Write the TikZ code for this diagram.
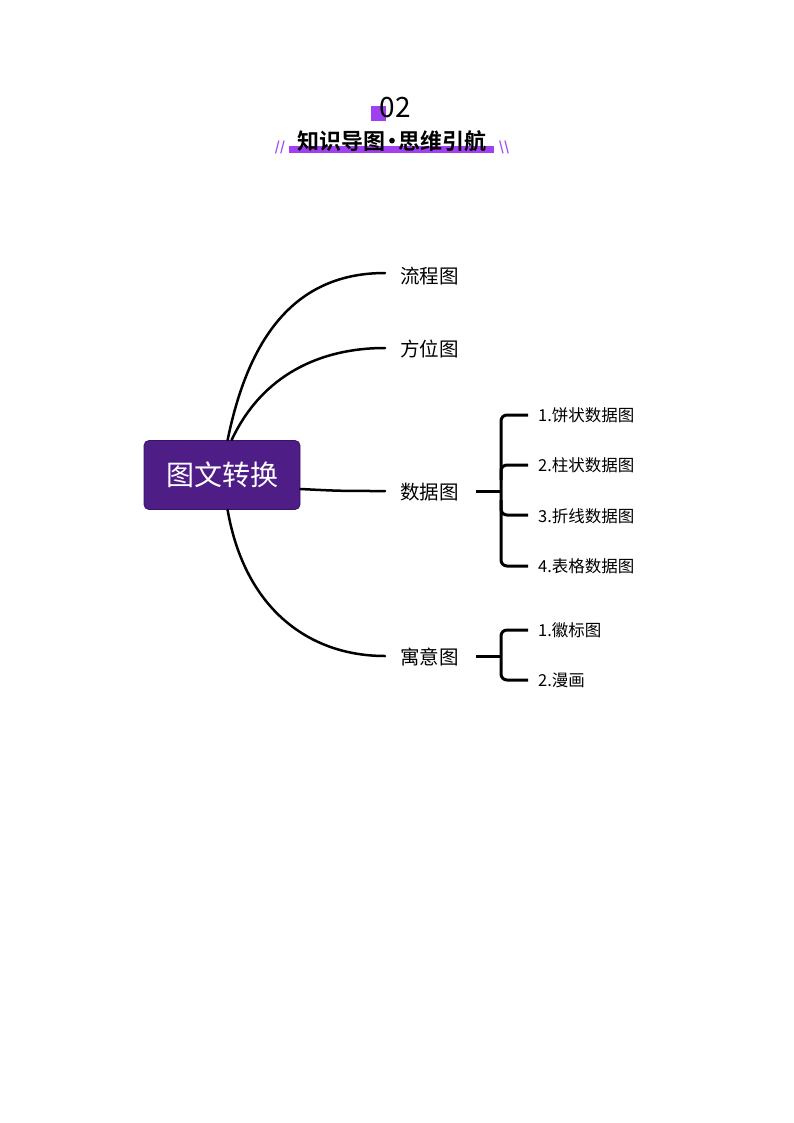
\documentclass[tikz,border=0pt]{standalone}
\usepackage{fontspec}
\setmainfont{Noto Sans CJK SC}
\newfontfamily\cjk{Noto Sans CJK SC}
\newfontfamily\cjkbold{Noto Sans CJK SC Bold}
\newfontfamily\cjklight{Noto Sans CJK SC Light}
\definecolor{barpurple}{HTML}{A040F0}
\definecolor{nodepurple}{HTML}{4F1D86}
\definecolor{nodeborder}{HTML}{3A1266}
\begin{document}
\begin{tikzpicture}[x=1pt,y=-1pt,
  branch/.style={line width=2.5pt,line cap=round},
  brack/.style={line width=3pt,rounded corners=6pt},
  lvl1/.style={font=\cjk\fontsize{19.5}{22}\selectfont,anchor=west,inner sep=0pt},
  lvl2/.style={font=\cjk\fontsize{16.5}{18}\selectfont,anchor=west,inner sep=0pt}]
\useasboundingbox (0,0) rectangle (794,1123);
% header
\fill[barpurple] (371,106) rectangle (386,121);
\node[font=\cjk\fontsize{28}{30}\selectfont,inner sep=0pt] (num) at (395,108) {02};
\fill[barpurple] (289,146) rectangle (494,153);
\node[font=\cjkbold\fontsize{22}{24}\selectfont,inner sep=0pt] (title) at (392,141) {知识导图\kern-4.5pt·\kern-4.5pt思维引航};
\node[font=\cjkbold\fontsize{13}{14}\selectfont,text=barpurple,inner sep=0pt] (sl) at (280,147) {//};
\node[font=\cjkbold\fontsize{13}{14}\selectfont,text=barpurple,inner sep=0pt] (sr) at (504,147) {\textbackslash\textbackslash};
% central node
\node[draw=nodeborder,line width=0.8pt,fill=nodepurple,rounded corners=5pt,minimum width=156pt,minimum height=69pt,inner sep=0pt,text=white,font=\cjk\fontsize{28}{30}\selectfont] (c) at (222,475) {图文转换};
% level 1 nodes
\node[lvl1] (a) at (400,276) {流程图};
\node[lvl1] (b) at (400,349) {方位图};
\node[lvl1] (d) at (400,492) {数据图};
\node[lvl1] (e) at (400,657) {寓意图};
\coordinate (ae) at (385,273);
\coordinate (be) at (385,348);
\coordinate (de) at (385,491);
\coordinate (ee) at (385,656);
\draw[branch] (c.north west) ++(84,0) coordinate (as) .. controls (250,330) and (300,273) .. (ae);
\draw[branch] (c.north west) ++(88,0) coordinate (bs) .. controls (262,375) and (320,348) .. (be);
\draw[branch] (c.east) ++(0,14) coordinate (ds) .. controls (340,491) .. (de);
\draw[branch] (c.south west) ++(84,0) coordinate (es) .. controls (245,610) and (310,656) .. (ee);
% data sub-branches
\node[lvl2] (d1) at (538,415) {1.饼状数据图};
\node[lvl2] (d2) at (538,465) {2.柱状数据图};
\node[lvl2] (d3) at (538,516) {3.折线数据图};
\node[lvl2] (d4) at (538,566) {4.表格数据图};
\coordinate (dj) at (476,491);
\coordinate (dk) at (501,491);
\draw[line width=3pt] (dj) -- (dk);
\draw[brack] (528,415) -- (501,415) -- (501,566) -- (528,566);
\draw[brack] (528,465) -- (501,465) -- (501,480);
\draw[brack] (528,515) -- (501,515) -- (501,500);
% yuyi sub-branches
\node[lvl2] (e1) at (538,630) {1.徽标图};
\node[lvl2] (e2) at (538,680) {2.漫画};
\coordinate (ej) at (476,656);
\coordinate (ek) at (501,656);
\draw[line width=3pt] (ej) -- (ek);
\draw[brack] (528,630) -- (501,630) -- (501,680) -- (528,680);
\end{tikzpicture}
\end{document}
